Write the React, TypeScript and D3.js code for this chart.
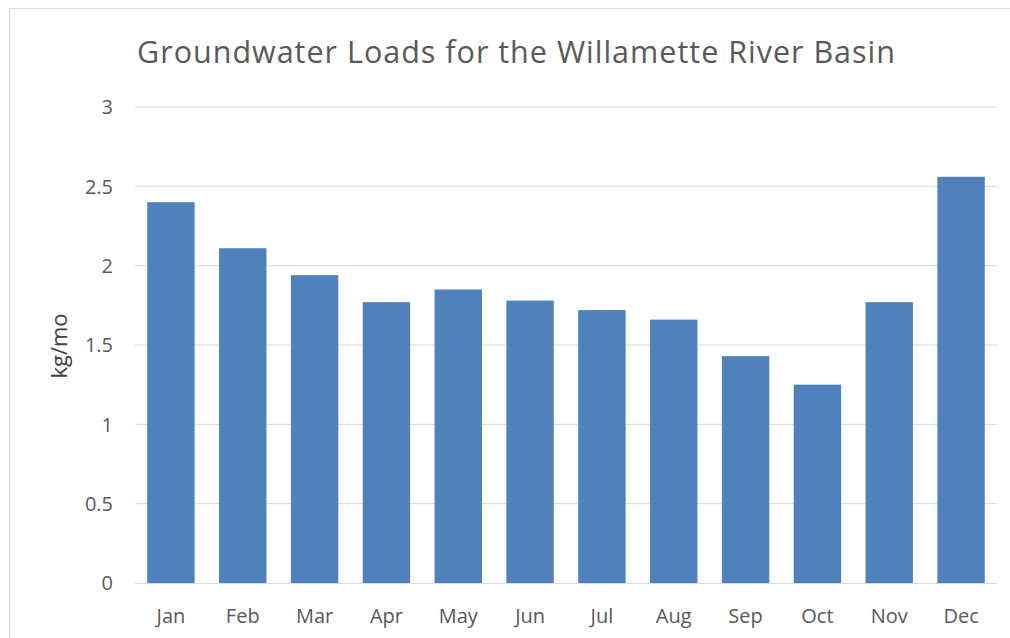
import React from "react";
import * as d3 from "d3";

const months = ["Jan", "Feb", "Mar", "Apr", "May", "Jun", "Jul", "Aug", "Sep", "Oct", "Nov", "Dec"];
const loads = [2.4, 2.11, 1.94, 1.77, 1.85, 1.78, 1.72, 1.66, 1.43, 1.25, 1.77, 2.56];
const yTicks = [0, 0.5, 1, 1.5, 2, 2.5, 3];

const width = 1010;
const height = 638;
const font = "'Open Sans', sans-serif";

const App = () => {
  const x = d3
    .scaleBand()
    .domain(months)
    .range([135, 997])
    .paddingInner(0.34)
    .paddingOuter(0.17);
  const y = d3.scaleLinear().domain([0, 3]).range([583, 107]);

  return (
    <svg
      width={width}
      height={height}
      style={{ position: "absolute", left: 0, top: 0, background: "#fff" }}
    >
      <rect x={9.5} y={8.5} width={1010} height={640} fill="#fff" stroke="#d9d9d9" />
      <text
        x={137}
        y={63}
        fontFamily={font}
        fontSize={30.5}
        textLength={758}
        lengthAdjust="spacing"
        fill="#595959"
      >
        Groundwater Loads for the Willamette River Basin
      </text>

      {yTicks.map(t => (
        <g key={t}>
          {t > 0 && (
            <line x1={135} x2={997} y1={y(t)} y2={y(t)} stroke="#d9d9d9" strokeWidth={1} />
          )}
          <text
            x={113}
            y={y(t)}
            dy="0.36em"
            textAnchor="end"
            fontFamily={font}
            fontSize={20}
            fill="#595959"
          >
            {t}
          </text>
        </g>
      ))}

      {months.map((m, i) => (
        <rect
          key={m}
          x={x(m)}
          y={y(loads[i])}
          width={x.bandwidth()}
          height={y(0) - y(loads[i])}
          fill="#4f81bd"
        />
      ))}

      <line x1={135} x2={997} y1={y(0) + 0.5} y2={y(0) + 0.5} stroke="#d9d9d9" />

      {months.map(m => (
        <text
          key={m}
          x={x(m)! + x.bandwidth() / 2}
          y={623}
          textAnchor="middle"
          fontFamily={font}
          fontSize={20}
          fill="#595959"
        >
          {m}
        </text>
      ))}

      <text
        transform="translate(67,346) rotate(-90)"
        textAnchor="middle"
        fontFamily={font}
        fontSize={22}
        fill="#404040"
      >
        kg/mo
      </text>
    </svg>
  );
};

export default App;
